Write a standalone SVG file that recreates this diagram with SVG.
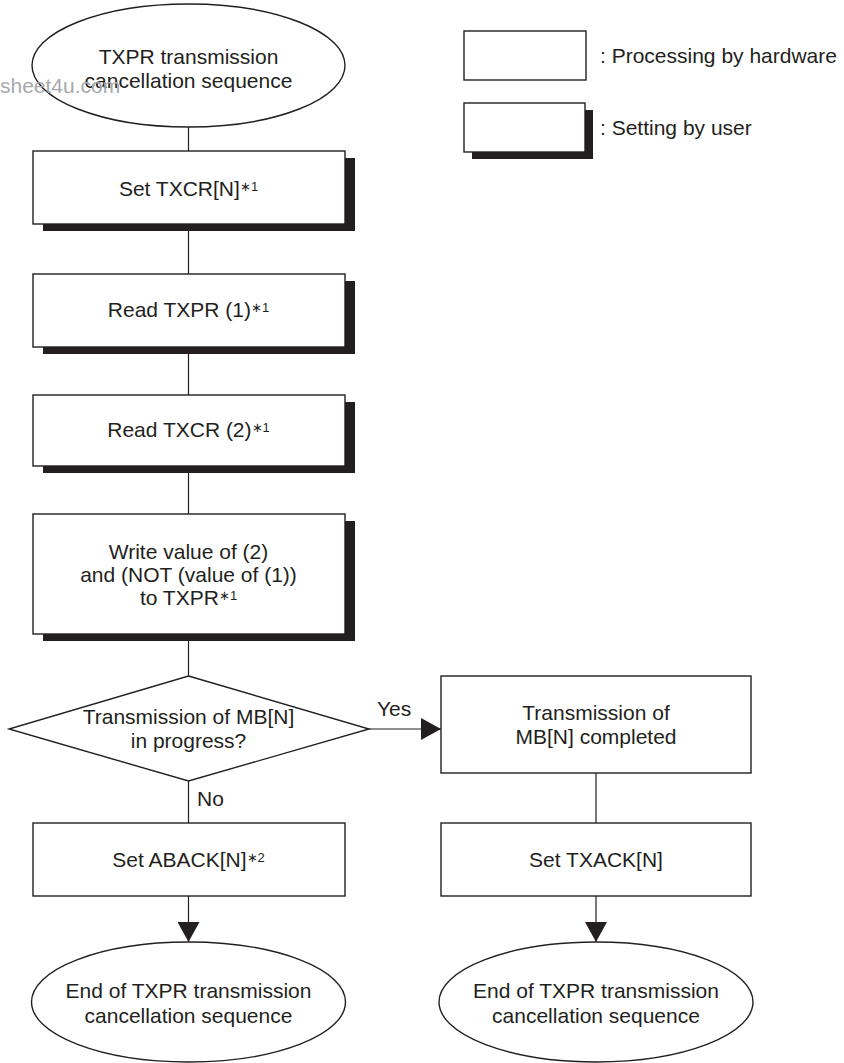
<svg xmlns="http://www.w3.org/2000/svg" width="844" height="1063" viewBox="0 0 844 1063">
<defs>
<style>
.t{font-family:"Liberation Sans",Arial,sans-serif;font-size:21px;fill:#231f20;text-anchor:middle}
.tl{font-family:"Liberation Sans",Arial,sans-serif;font-size:21px;fill:#231f20}
.sup{font-size:13px}
.box{fill:#fff;stroke:#231f20;stroke-width:1.4}
.sh{fill:#231f20}
.ln{stroke:#231f20;stroke-width:1.2;fill:none}
.wm{font-family:"Liberation Sans",Arial,sans-serif;font-size:21px;fill:#a7a9ac}
</style>
<marker id="ah" markerWidth="22" markerHeight="22" viewBox="0 0 20 22" refX="20" refY="11" orient="auto" markerUnits="userSpaceOnUse">
<path d="M0,0 L20,11 L0,22 Z" fill="#231f20"/>
</marker>
</defs>
<rect width="844" height="1063" fill="#fff"/>

<g id="connectors">
<line class="ln" x1="188.5" y1="127" x2="188.5" y2="151"/>
<line class="ln" x1="188.5" y1="224" x2="188.5" y2="274"/>
<line class="ln" x1="188.5" y1="347" x2="188.5" y2="395"/>
<line class="ln" x1="188.5" y1="466" x2="188.5" y2="514"/>
<line class="ln" x1="188.5" y1="634" x2="188.5" y2="676"/>
<line class="ln" x1="188.5" y1="781" x2="188.5" y2="823"/>
<line class="ln" x1="369" y1="729" x2="441" y2="729" marker-end="url(#ah)"/>
<line class="ln" x1="596" y1="773" x2="596" y2="823"/>
<line class="ln" x1="188.5" y1="896" x2="188.5" y2="942" marker-end="url(#ah)"/>
<line class="ln" x1="596" y1="896" x2="596" y2="942" marker-end="url(#ah)"/>
<text class="tl" x="377" y="716">Yes</text>
<text class="tl" x="197" y="806">No</text>
</g>

<g id="start">
<ellipse class="box" cx="188.5" cy="65.5" rx="156.5" ry="61.5"/>
<text class="t" x="188.5" y="64">TXPR transmission</text>
<text class="t" x="188.5" y="88">cancellation sequence</text>
</g>
<text class="wm" x="0" y="93">sheet4u.com</text>

<g id="legend-hw">
<rect class="box" x="464" y="31" width="122" height="49"/>
<text class="tl" x="600" y="63">: Processing by hardware</text>
</g>
<g id="legend-user">
<rect class="sh" x="472" y="110" width="121" height="49"/>
<rect class="box" x="464" y="103" width="121" height="49"/>
<text class="tl" x="600" y="135">: Setting by user</text>
</g>

<g id="set-txcr">
<rect class="sh" x="43" y="158" width="312" height="73"/>
<rect class="box" x="33" y="151" width="312" height="73"/>
<text class="t" x="188.5" y="196">Set TXCR[N]<tspan class="sup" dy="-5">∗1</tspan></text>
</g>

<g id="read-txpr">
<rect class="sh" x="43" y="281" width="312" height="73"/>
<rect class="box" x="33" y="274" width="312" height="73"/>
<text class="t" x="188.5" y="317">Read TXPR (1)<tspan class="sup" dy="-5">∗1</tspan></text>
</g>

<g id="read-txcr">
<rect class="sh" x="43" y="402" width="312" height="71"/>
<rect class="box" x="33" y="395" width="312" height="71"/>
<text class="t" x="188.5" y="437">Read TXCR (2)<tspan class="sup" dy="-5">∗1</tspan></text>
</g>

<g id="write-txpr">
<rect class="sh" x="43" y="521" width="312" height="120"/>
<rect class="box" x="33" y="514" width="312" height="120"/>
<text class="t" x="188.5" y="559">Write value of (2)</text>
<text class="t" x="188.5" y="582">and (NOT (value of (1))</text>
<text class="t" x="188.5" y="605">to TXPR<tspan class="sup" dy="-5">∗1</tspan></text>
</g>

<g id="decision">
<polygon class="box" points="188.5,676 369,729 188.5,781 9,729"/>
<text class="t" x="188.5" y="724">Transmission of MB[N]</text>
<text class="t" x="188.5" y="748">in progress?</text>
</g>

<g id="tx-completed">
<rect class="box" x="441" y="676" width="310" height="97"/>
<text class="t" x="596" y="720">Transmission of</text>
<text class="t" x="596" y="744">MB[N] completed</text>
</g>

<g id="set-aback">
<rect class="box" x="33" y="823" width="312" height="73"/>
<text class="t" x="188.5" y="867">Set ABACK[N]<tspan class="sup" dy="-5">∗2</tspan></text>
</g>

<g id="set-txack">
<rect class="box" x="441" y="823" width="310" height="73"/>
<text class="t" x="596" y="867">Set TXACK[N]</text>
</g>

<g id="end-left">
<ellipse class="box" cx="188.5" cy="1002" rx="157" ry="60"/>
<text class="t" x="188.5" y="998">End of TXPR transmission</text>
<text class="t" x="188.5" y="1023">cancellation sequence</text>
</g>

<g id="end-right">
<ellipse class="box" cx="596" cy="1002" rx="157" ry="60"/>
<text class="t" x="596" y="998">End of TXPR transmission</text>
<text class="t" x="596" y="1023">cancellation sequence</text>
</g>
</svg>
